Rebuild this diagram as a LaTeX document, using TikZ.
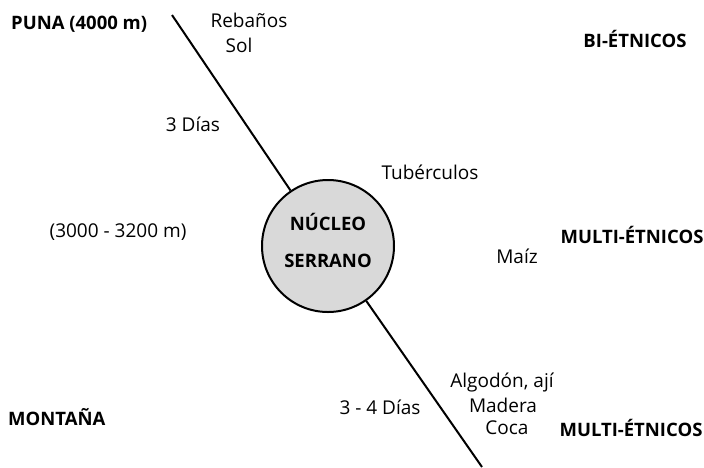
\documentclass[tikz,border=0pt]{standalone}
\usepackage{fontspec}
\setmainfont{Open Sans}
\begin{document}
\begin{tikzpicture}[x=1pt,y=-1pt,
  lbl/.style={font=\fontsize{19}{23}\selectfont, inner sep=0pt, align=center},
  bl/.style={font=\fontsize{18.5}{23}\selectfont\bfseries, inner sep=0pt, align=center},
  ln/.style={line width=2pt, black},
  core/.style={circle, draw=black, line width=2pt, fill=gray!30, minimum size=132pt, inner sep=0pt}]
\useasboundingbox (0,0) rectangle (704,467);
\node[core] (nuc) at (328,246) {};
\coordinate (top) at (172,15);
\coordinate (bot) at (482,467);
\draw[ln] (top) -- (nuc);
\draw[ln] (nuc) -- (bot);
\node[bl] (t1) at (328,222) {NÚCLEO};
\node[bl] (t2) at (328,261) {SERRANO};
\node[bl, anchor=west] (puna) at (11,24) {PUNA (4000 m)};
\node[lbl] (reb) at (249,20) {Rebaños};
\node[lbl] (sol) at (239,45) {Sol};
\node[lbl] (d3) at (193,124) {3 Días};
\node[lbl] (tub) at (430,172) {Tubérculos};
\node[lbl] (alt) at (118,232) {(3000 - 3200 m)};
\node[bl] (bi) at (635,39) {BI-ÉTNICOS};
\node[bl] (me1) at (632,235) {MULTI-ÉTNICOS};
\node[lbl] (mai) at (517,256) {Maíz};
\node[bl, anchor=west] (mon) at (8,417) {MONTAÑA};
\node[lbl] (d34) at (380,407) {3 - 4 Días};
\node[lbl] (alg) at (502,382) {Algodón, ají};
\node[lbl] (mad) at (503,405) {Madera};
\node[lbl] (coc) at (507,428) {Coca};
\node[bl] (me2) at (631,428) {MULTI-ÉTNICOS};
\end{tikzpicture}
\end{document}
